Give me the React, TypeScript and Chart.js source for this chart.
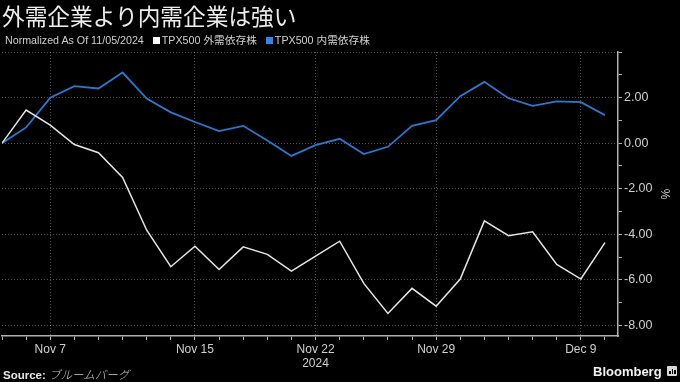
import React, { useEffect, useRef } from "react";
import { Chart, registerables } from "chart.js";
Chart.register(...registerables);

const dates = ["Nov 5","Nov 6","Nov 7","Nov 8","Nov 11","Nov 12","Nov 13","Nov 14","Nov 15","Nov 18","Nov 19","Nov 20","Nov 21","Nov 22","Nov 25","Nov 26","Nov 27","Nov 28","Nov 29","Dec 2","Dec 3","Dec 4","Dec 5","Dec 6","Dec 9","Dec 10"];
const externalDemand = [0, 1.45, 0.79, -0.06, -0.42, -1.5, -3.82, -5.42, -4.52, -5.54, -4.55, -4.88, -5.61, -4.96, -4.3, -6.15, -7.47, -6.37, -7.15, -5.96, -3.41, -4.06, -3.89, -5.32, -5.96, -4.36];
const domesticDemand = [0, 0.69, 1.99, 2.5, 2.4, 3.1, 1.96, 1.35, 0.93, 0.53, 0.76, 0.12, -0.56, -0.09, 0.19, -0.48, -0.16, 0.76, 1.01, 2.06, 2.69, 1.97, 1.64, 1.83, 1.8, 1.23];
const labeledDates = ["Nov 7", "Nov 15", "Nov 22", "Nov 29", "Dec 9"];
const yearLabel = { date: "Nov 22", year: "2024" };
const yTickLabels = [2, 0, -2, -4, -6, -8];
const yMinorTicks = [4, 3, 1, -1, -3, -5, -7];
const seriesNames = ["TPX500 外需依存株", "TPX500 内需依存株"];

const WHITE = "#e6e6e6";
const BLUE = "#2a78d0";
const GRID = "rgba(255,255,255,0.32)";
const AXIS = "#b0b0b0";
const LABEL = "#cfcfcf";
const FONT = "'Liberation Sans', Arial, 'Noto Sans CJK JP', sans-serif";

export default function App() {
  const ref = useRef<HTMLCanvasElement>(null);
  useEffect(() => {
    const canvas = ref.current!;
    const chart = new Chart(canvas, {
      type: "line",
      data: {
        datasets: [
          {
            label: seriesNames[0],
            data: externalDemand.map((v, i) => ({ x: i, y: v })),
            borderColor: WHITE,
            borderWidth: 1.5,
            pointRadius: 0,
            tension: 0,
          },
          {
            label: seriesNames[1],
            data: domesticDemand.map((v, i) => ({ x: i, y: v })),
            borderColor: BLUE,
            borderWidth: 1.8,
            pointRadius: 0,
            tension: 0,
          },
        ],
      },
      options: {
        animation: false,
        responsive: false,
        maintainAspectRatio: false,
        layout: { padding: { top: 52, left: 0, right: 0, bottom: 0 } },
        plugins: { legend: { display: false }, tooltip: { enabled: false } },
        scales: {
          x: {
            type: "linear",
            min: 0,
            max: 25.54,
            afterBuildTicks: (s: any) => {
              s.ticks = dates.map((_, i) => ({ value: i }));
            },
            afterFit: (s: any) => {
              s.height = 46;
            },
            grid: {
              color: (c: any) =>
                c.tick && labeledDates.includes(dates[Math.round(c.tick.value)]) ? GRID : "rgba(0,0,0,0)",
              tickColor: AXIS,
              tickLength: 4,
              lineWidth: 1,
            },
            border: { display: true, color: AXIS, width: 1.5, dash: [1, 2] },
            ticks: {
              autoSkip: false,
              maxRotation: 0,
              padding: 2,
              color: LABEL,
              font: { family: FONT, size: 12 },
              callback: (v: any) => {
                const d = dates[Math.round(v)];
                if (!labeledDates.includes(d)) return "";
                return d === yearLabel.date ? [d, yearLabel.year] : d;
              },
            },
          },
          y: {
            position: "right",
            min: -8.46,
            max: 4,
            afterBuildTicks: (s: any) => {
              s.ticks = [...yMinorTicks, ...yTickLabels].sort((a, b) => b - a).map((v) => ({ value: v }));
            },
            afterFit: (s: any) => {
              s.width = 62;
            },
            grid: {
              color: (c: any) =>
                c.tick && (yTickLabels.includes(c.tick.value) || c.tick.value === 4) ? GRID : "rgba(0,0,0,0)",
              tickColor: AXIS,
              tickLength: 4,
              lineWidth: 1,
            },
            border: { display: true, color: AXIS, width: 1.5, dash: [1, 2] },
            ticks: {
              autoSkip: false,
              padding: 2,
              color: LABEL,
              font: { family: FONT, size: 12.5 },
              callback: (v: any) => (yTickLabels.includes(v) ? Number(v).toFixed(2) : ""),
            },
            title: {
              display: true,
              text: "%",
              color: LABEL,
              font: { family: FONT, size: 12 },
              padding: { top: 8, bottom: 0 },
            },
          },
        },
      },
    } as any);
    return () => chart.destroy();
  }, []);

  return (
    <div
      style={{
        position: "absolute",
        left: 0,
        top: 0,
        width: 680,
        height: 382,
        background: "#000",
        overflow: "hidden",
        fontFamily: FONT,
      }}
    >
      <canvas ref={ref} width={680} height={382} style={{ position: "absolute", left: 0, top: 0, width: 680, height: 382 }} />
      <div
        style={{
          position: "absolute",
          left: 2,
          top: 3,
          fontSize: 22.7,
          lineHeight: "26px",
          color: "#ededed",
          fontFamily: "'Noto Sans CJK JP', sans-serif",
          whiteSpace: "nowrap",
        }}
      >
        外需企業より内需企業は強い
      </div>
      <div
        style={{
          position: "absolute",
          left: 5,
          top: 33,
          fontSize: 10.7,
          lineHeight: "14px",
          color: "#cfcfcf",
          whiteSpace: "nowrap",
          fontFamily: "'Liberation Sans', Arial, 'Noto Sans CJK JP', sans-serif",
        }}
      >
        Normalized As Of 11/05/2024
        <span style={{ display: "inline-block", width: 7, height: 7, background: "#ffffff", marginLeft: 9, marginRight: 2 }} />
        {seriesNames[0]}
        <span style={{ display: "inline-block", width: 7, height: 7, background: "#2e86f0", marginLeft: 9, marginRight: 2 }} />
        {seriesNames[1]}
      </div>
      <div
        style={{
          position: "absolute",
          left: 3,
          top: 367,
          fontSize: 11.5,
          lineHeight: "14px",
          color: "#e6e6e6",
          whiteSpace: "nowrap",
        }}
      >
        <b>Source:</b>{" "}
        <span style={{ fontStyle: "italic", fontFamily: "'Noto Sans CJK JP', sans-serif", color: "#ccc", fontWeight: 300 }}>
          ブルームバーグ
        </span>
      </div>
      <div
        style={{
          position: "absolute",
          left: 593,
          top: 364,
          fontSize: 13,
          lineHeight: "16px",
          fontWeight: 700,
          color: "#f2f2f2",
          whiteSpace: "nowrap",
          fontFamily: "'Liberation Sans', Arial, sans-serif",
        }}
      >
        Bloomberg
      </div>
      <div
        style={{
          position: "absolute",
          left: 667,
          top: 366,
          width: 10,
          height: 10,
          background: "#d8d8d8",
          borderRadius: 1,
        }}
      >
        <div style={{ position: "absolute", left: 2, top: 5, width: 1.5, height: 3, background: "#000" }} />
        <div style={{ position: "absolute", left: 4.5, top: 3, width: 1.5, height: 5, background: "#000" }} />
        <div style={{ position: "absolute", left: 7, top: 4, width: 1.5, height: 4, background: "#000" }} />
      </div>
    </div>
  );
}
